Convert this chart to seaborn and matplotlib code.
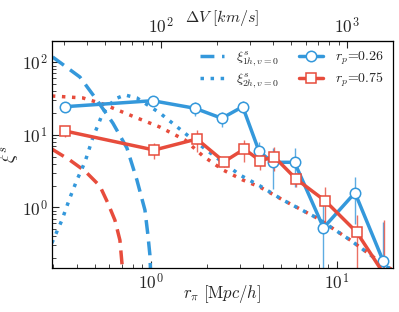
import numpy as np
import pandas as pd
import matplotlib
matplotlib.use("Agg")
import matplotlib.pyplot as plt
import seaborn as sns
from matplotlib.ticker import FuncFormatter, FixedLocator

# measured xi^s(r_pi) for two r_p bins
r_pi_026 = [0.346, 1.025, 1.73, 2.41, 3.12, 3.82, 4.51, 5.92, 8.47, 12.5, 17.7]
xi_026 = [24.4, 29.5, 23.2, 16.9, 24.4, 5.92, 4.18, 4.18, 0.523, 1.59, 0.183]
err_026 = [3.3, 4.0, 4.8, 4.0, 4.4, 2.0, 2.4, 2.3, 0.6, 1.0, 0.45]

r_pi_075 = [0.346, 1.045, 1.77, 2.48, 3.18, 3.88, 4.60, 6.04, 8.65, 12.8, 17.9]
xi_075 = [11.3, 6.17, 8.75, 4.26, 6.37, 4.38, 4.99, 2.46, 1.23, 0.452, 0.12]
err_075 = [1.9, 1.5, 3.0, 0.7, 2.2, 1.1, 1.8, 0.55, 0.67, 0.33, 0.55]

# model curves
r_1h_026 = [0.298, 0.417, 0.514, 0.627, 0.746, 0.844, 0.932, 0.967, 0.991, 1.0]
xi_1h_026 = [118, 62.6, 30.2, 14.5, 6.58, 2.38, 0.918, 0.415, 0.22, 0.12]

r_1h_075 = [0.295, 0.368, 0.444, 0.534, 0.589, 0.643, 0.684, 0.71]
xi_1h_075 = [6.37, 4.49, 3.17, 1.97, 1.15, 0.667, 0.353, 0.12]

r_2h_026 = [0.295, 0.334, 0.368, 0.402, 0.444, 0.489, 0.554, 0.643, 0.728, 0.844,
            1.12, 1.57, 2.27, 3.02, 3.87, 5.14, 7.83, 11.8, 18.6, 20.5]
xi_2h_026 = [0.322, 0.668, 1.34, 2.38, 4.22, 9.04, 20.0, 31.2, 35.4, 32.2,
             20.0, 9.94, 4.79, 2.79, 1.97, 1.26, 0.712, 0.354, 0.150, 0.135]

r_2h_075 = [0.295, 0.433, 0.554, 0.684, 0.844, 1.12, 1.53, 1.91, 2.45, 3.13,
            3.87, 5.14, 7.83, 11.8, 18.6, 20.5]
xi_2h_075 = [34.3, 32.2, 26.6, 21.3, 17.1, 12.8, 8.47, 5.10, 3.27, 2.38,
             1.90, 1.26, 0.712, 0.354, 0.150, 0.135]

vel_factor = 88.0  # km/s per Mpc/h
vel_ticks = [100, 1000]

blue = "#3498db"
red = "#e74c3c"
dash = (0, (4, 2.2))
dot = (0, (1, 1.9))

sns.set_style("ticks")
plt.rcParams["font.family"] = ["cmr10", "DejaVu Serif"]
plt.rcParams["axes.formatter.use_mathtext"] = True
plt.rcParams["mathtext.fontset"] = "cm"
plt.rcParams["xtick.direction"] = "in"
plt.rcParams["ytick.direction"] = "in"

fig = plt.figure(figsize=(3.99, 3.12), dpi=100)
ax = fig.add_axes([0.130, 0.141, 0.855, 0.729])

sns.lineplot(x=r_1h_026, y=xi_1h_026, ax=ax, color=blue, lw=2.5, linestyle=dash, sort=False)
sns.lineplot(x=r_1h_075, y=xi_1h_075, ax=ax, color=red, lw=2.5, linestyle=dash, sort=False)
sns.lineplot(x=r_2h_075, y=xi_2h_075, ax=ax, color=red, lw=2.5, linestyle=dot, sort=False)
sns.lineplot(x=r_2h_026, y=xi_2h_026, ax=ax, color=blue, lw=2.5, linestyle=dot, sort=False)

df026 = pd.DataFrame({"r": r_pi_026, "xi": xi_026, "err": err_026})
df075 = pd.DataFrame({"r": r_pi_075, "xi": xi_075, "err": err_075})

ax.errorbar(df026["r"], df026["xi"], yerr=df026["err"], fmt="none", ecolor=blue, elinewidth=1.0, alpha=0.8)
ax.errorbar(df075["r"], df075["xi"], yerr=df075["err"], fmt="none", ecolor=red, elinewidth=1.0, alpha=0.8)
sns.lineplot(data=df026, x="r", y="xi", ax=ax, color=blue, lw=2.5, marker="o", markersize=7.5,
             markerfacecolor="white", markeredgecolor=blue, markeredgewidth=1.1, sort=False)
sns.lineplot(data=df075, x="r", y="xi", ax=ax, color=red, lw=2.5, marker="s", markersize=7,
             markerfacecolor="white", markeredgecolor=red, markeredgewidth=1.1, sort=False)

ax.set_xscale("log")
ax.set_yscale("log")
ax.set_xlim(0.295, 20.0)
ax.set_ylim(0.146, 199)

fmt = FuncFormatter(lambda v, p: r"$10^{%d}$" % round(np.log10(v)))
ax.xaxis.set_major_formatter(fmt)
ax.yaxis.set_major_formatter(fmt)
ax.tick_params(which="both", top=False, right=False, labelsize=12.5)
ax.tick_params(which="major", length=5, width=0.8, pad=3)
ax.tick_params(which="minor", length=3, width=0.6)

ax.set_xlabel(r"$r_\pi\ [\mathrm{M}pc/h]$", fontsize=12)
ax.set_ylabel(r"$\xi^s$", fontsize=13)
ax.xaxis.set_label_coords(0.5, -0.066)
ax.yaxis.set_label_coords(-0.094, 0.5)

sec = ax.secondary_xaxis("top", functions=(lambda r: r * vel_factor, lambda v: v / vel_factor))
sec.xaxis.set_major_locator(FixedLocator(vel_ticks))
sec.xaxis.set_minor_locator(FixedLocator([v * k for v in (10, 100, 1000) for k in range(2, 10)
                                          if 0.295 * vel_factor <= v * k <= 20.0 * vel_factor]))
sec.xaxis.set_major_formatter(fmt)
sec.xaxis.set_minor_formatter(FuncFormatter(lambda v, p: ""))
sec.tick_params(which="both", direction="in", labelsize=12.5)
sec.tick_params(which="major", length=5, width=0.8, pad=3)
sec.tick_params(which="minor", length=3, width=0.6)
ax.text(0.5, 1.10, r"$\Delta V\ [km/s]$", transform=ax.transAxes, fontsize=11.5, ha="center", va="center")

for s in ax.spines.values():
    s.set_linewidth(0.9)
    s.set_color("black")

h1, = ax.plot([], [], color=blue, lw=2.5, linestyle=dash)
h2, = ax.plot([], [], color=blue, lw=2.5, linestyle=dot)
h3, = ax.plot([], [], color=blue, lw=2.5, marker="o", markersize=7.5, markerfacecolor="white", markeredgewidth=1.1)
h4, = ax.plot([], [], color=red, lw=2.5, marker="s", markersize=7, markerfacecolor="white", markeredgewidth=1.1)
ax.legend([h1, h2, h3, h4],
          [r"$\xi^s_{1h,v=0}$", r"$\xi^s_{2h,v=0}$", r"$r_p$=0.26", r"$r_p$=0.75"],
          ncol=2, loc="upper right", frameon=False, fontsize=10, handlelength=1.7,
          columnspacing=1.4, handletextpad=0.9, borderaxespad=0.25, labelspacing=0.25)

fig.savefig("out.png", dpi=100)
